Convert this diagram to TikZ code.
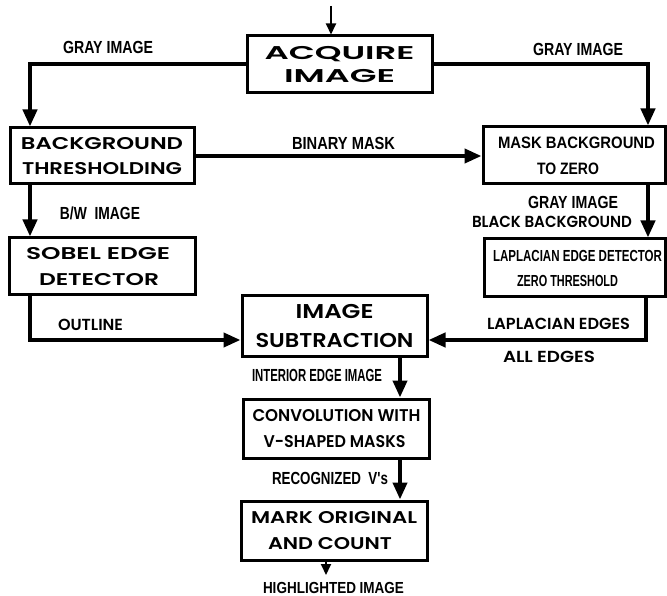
\documentclass[tikz,border=0pt]{standalone}
\usepackage{fontspec}
\usepackage{graphicx}
\usetikzlibrary{arrows.meta}
\newfontfamily\geo[BoldFont={Poppins SemiBold}]{Poppins}
\newfontfamily\cond{Liberation Sans}
\newsavebox\fitbx
\newlength\fitln
\newcommand\fitto[2]{\sbox\fitbx{#2}\setlength\fitln{\wd\fitbx}\pgfmathsetmacro\fitxs{#1/\fitln}\scalebox{\fitxs}[1]{\usebox\fitbx}}
\begin{document}
\begin{tikzpicture}[x=1pt,y=-1pt,
  box/.style={draw,line width=3pt,inner sep=0pt,align=center,font=\geo\bfseries\fontsize{17}{25.5}\selectfont},
  cbox/.style={box,font=\cond\bfseries\fontsize{16.5}{26}\selectfont},
  lbl/.style={font=\cond\bfseries\fontsize{17.5}{20}\selectfont,inner sep=0pt},
  glbl/.style={font=\geo\bfseries\fontsize{16}{18}\selectfont,inner sep=0pt},
  conn/.style={line width=4pt,-{Triangle[length=17pt,width=14pt]}},
  thin/.style={line width=2pt,-{Triangle[length=11pt,width=10pt]}}]
\useasboundingbox (0,0) rectangle (667,596);
\node[box,minimum width=185pt,minimum height=57pt,font=\geo\bfseries\fontsize{18.5}{23}\selectfont] (acq) at (339.5,64.5) {\fitto{150}{ACQUIRE}\\\fitto{111}{IMAGE}};
\node[box,minimum width=184pt,minimum height=56pt] (bg) at (102,156) {\fitto{162}{BACKGROUND}\\\fitto{160}{THRESHOLDING}};
\node[cbox,minimum width=182pt,minimum height=57pt] (mask) at (574,155.5) {\fitto{157}{MASK BACKGROUND}\hspace*{-5pt}\\\fitto{62}{TO ZERO}\hspace*{12pt}};
\node[box,minimum width=186pt,minimum height=57pt] (sobel) at (102,266.5) {\fitto{144}{SOBEL EDGE}\hspace*{8pt}\\\fitto{120}{DETECTOR}\hspace*{6pt}};
\node[box,minimum width=185pt,minimum height=60pt,font=\geo\bfseries\fontsize{20}{29}\selectfont] (sub) at (334.5,326) {\fitto{78}{IMAGE}\\\fitto{158}{SUBTRACTION}};
\node[cbox,minimum width=181pt,minimum height=58pt,font=\cond\bfseries\fontsize{16}{25}\selectfont] (lap) at (574.5,268) {\fitto{169}{LAPLACIAN EDGE DETECTOR}\hspace*{-6pt}\\\fitto{101}{ZERO THRESHOLD}\hspace*{14pt}};
\node[box,minimum width=186pt,minimum height=59pt] (conv) at (336.5,428.5) {\fitto{168}{CONVOLUTION WITH}\\\fitto{142}{V-SHAPED MASKS}\hspace*{4pt}};
\node[box,minimum width=186pt,minimum height=59pt] (mark) at (334,530.5) {\fitto{166}{MARK ORIGINAL}\\\fitto{124}{AND COUNT}\hspace*{8pt}};
\coordinate (top) at (331,6);
\coordinate (lx) at (30,0);
\coordinate (rx) at (648,0);
\coordinate (rx2) at (646,0);
\coordinate (ly) at (0,340);
\coordinate (cx) at (400,0);
\coordinate (bx) at (326,575);
\draw[thin] (top) -- (top |- acq.north);
\draw[conn] (acq.west) -| (lx |- bg.north);
\draw[conn] (acq.east) -| (rx |- mask.north);
\draw[conn] (bg.east) -- (bg.east -| mask.west);
\draw[conn] (lx |- bg.south) -- (lx |- sobel.north);
\draw[conn] (rx |- mask.south) -- (rx |- lap.north);
\draw[conn] (lx |- sobel.south) |- (ly -| sub.west);
\draw[conn] (rx2 |- lap.south) |- (ly -| sub.east);
\draw[conn] (cx |- sub.south) -- (cx |- conv.north);
\draw[conn] (cx |- conv.south) -- (cx |- mark.north);
\draw[thin] (bx |- mark.south) -- (bx);
\node[lbl] (l1) at (108,47) {\fitto{90}{GRAY IMAGE}};
\node[lbl] (l2) at (578,49) {\fitto{90}{GRAY IMAGE}};
\node[lbl] (l3) at (343.5,143) {\fitto{103}{BINARY MASK}};
\node[lbl] (l4) at (100,213) {\fitto{80}{B/W\ \ IMAGE}};
\node[lbl] (l5) at (573,202) {\fitto{90}{GRAY IMAGE}};
\node[glbl] (l6) at (552,222) {\fitto{160}{BLACK BACKGROUND}};
\node[glbl] (l7) at (90.5,325) {\fitto{65}{OUTLINE}};
\node[glbl] (l8) at (558.5,324) {\fitto{143}{LAPLACIAN EDGES}};
\node[glbl] (l9) at (549,357) {\fitto{92}{ALL EDGES}};
\node[lbl] (l10) at (317,375) {\fitto{130}{INTERIOR EDGE IMAGE}};
\node[lbl] (l11) at (330,478) {\fitto{116}{RECOGNIZED\ \ V's}};
\node[lbl,font=\cond\bfseries\fontsize{16}{18}\selectfont] (l12) at (333.5,588) {\fitto{141}{HIGHLIGHTED IMAGE}};
\end{tikzpicture}
\end{document}
